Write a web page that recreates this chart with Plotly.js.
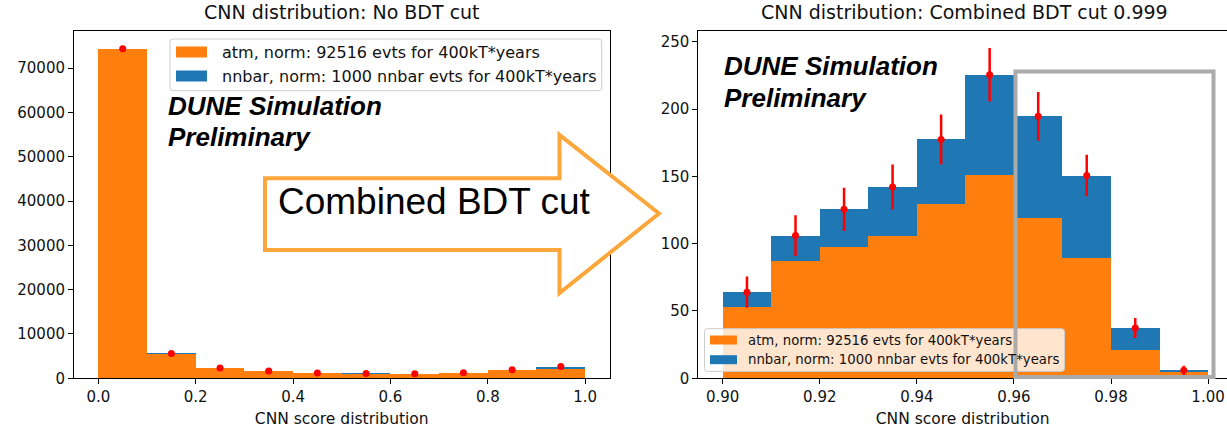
<!DOCTYPE html>
<html>
<head>
<meta charset="utf-8">
<script src="https://cdn.plot.ly/plotly-3.0.1.min.js"></script>
<style>html,body{margin:0;padding:0;background:#fff}#chart{width:1227px;height:429px}</style>
</head>
<body>
<div id="chart"></div>
<script>
// ---------- data ----------
const leftBinCenters = [0.05, 0.15, 0.25, 0.35, 0.45, 0.55, 0.65, 0.75, 0.85, 0.95];
const leftAtm   = [74350, 5585, 2330, 1625, 1150, 1060, 1000, 1210, 1800, 2060];
const leftNnbar = [10, 15, 20, 25, 30, 40, 50, 70, 150, 590];
const leftData  = [74360, 5600, 2350, 1650, 1180, 1100, 1050, 1280, 1950, 2650];

const rightBinCenters = [0.905, 0.915, 0.925, 0.935, 0.945, 0.955, 0.965, 0.975, 0.985, 0.995];
const rightAtm   = [52.8, 87.0, 97.6, 105.5, 129.8, 150.9, 118.8, 89.6, 21.3, 4.8];
const rightNnbar = [11.2, 19.0, 27.9, 36.6, 47.6, 74.6, 75.8, 61.0, 16.1, 1.1];
const rightData  = [64.0, 106.0, 125.5, 142.1, 177.4, 225.5, 194.6, 150.6, 37.4, 5.9];
const rightErr   = [11.6, 15.2, 16.0, 16.8, 18.6, 19.9, 18.1, 15.4, 7.4, 3.5];

const leftTickVals  = [0.0, 0.2, 0.4, 0.6, 0.8, 1.0];
const rightTickVals = [0.90, 0.92, 0.94, 0.96, 0.98, 1.00];
const leftYTicks  = [0, 10000, 20000, 30000, 40000, 50000, 60000, 70000];
const rightYTicks = [0, 50, 100, 150, 200, 250];

const atmLabel   = 'atm, norm: 92516 evts for 400kT*years';
const nnbarLabel = 'nnbar, norm: 1000 nnbar evts for 400kT*years';

// ---------- styling ----------
const ORANGE = '#ff7f0e', BLUE = '#1f77b4';
const W = 1227, H = 429;
const px = x => x / W, py = y => 1 - y / H;
const FONT = 'DejaVu Sans, sans-serif';

const traces = [
  {type:'bar', x:leftBinCenters, y:leftAtm, width:0.1, marker:{color:ORANGE, line:{width:0}},
   xaxis:'x', yaxis:'y', name:atmLabel, showlegend:false, hoverinfo:'y'},
  {type:'bar', x:leftBinCenters, y:leftNnbar, width:0.1, marker:{color:BLUE, line:{width:0}},
   xaxis:'x', yaxis:'y', name:nnbarLabel, showlegend:false, hoverinfo:'y'},
  {type:'scatter', mode:'markers', x:leftBinCenters, y:leftData, marker:{color:'#ff0000', size:7},
   xaxis:'x', yaxis:'y', showlegend:false},
  {type:'bar', x:rightBinCenters, y:rightAtm, width:0.01, marker:{color:ORANGE, line:{width:0}},
   xaxis:'x2', yaxis:'y2', name:atmLabel, showlegend:false},
  {type:'bar', x:rightBinCenters, y:rightNnbar, width:0.01, marker:{color:BLUE, line:{width:0}},
   xaxis:'x2', yaxis:'y2', name:nnbarLabel, showlegend:false},
  {type:'scatter', mode:'markers', x:rightBinCenters, y:rightData,
   error_y:{type:'data', array:rightErr, visible:true, color:'#ff0000', thickness:2.5, width:0},
   marker:{color:'#ff0000', size:7}, xaxis:'x2', yaxis:'y2', showlegend:false}
];

const axisCommon = {
  showgrid:false, zeroline:false, showline:true, linecolor:'#000', linewidth:1,
  ticks:'outside', ticklen:5, tickwidth:1, tickcolor:'#000',
  tickfont:{family:FONT, size:15, color:'#111'}, automargin:false, fixedrange:true
};
const yDomain = [1 - 378.3/H, 1 - 30.7/H];

const layout = {
  width:W, height:H, margin:{l:0, r:0, t:0, b:0},
  paper_bgcolor:'#fff', plot_bgcolor:'#fff', barmode:'stack', showlegend:false,
  font:{family:FONT, color:'#111'},
  xaxis:Object.assign({}, axisCommon, {domain:[px(74), px(609.5)], range:[-0.05, 1.05], mirror:true,
    tickvals:leftTickVals, tickformat:'.1f', anchor:'y',
    title:{text:'CNN score distribution', font:{family:FONT, size:15.5, color:'#111'}, standoff:7}}),
  yaxis:Object.assign({}, axisCommon, {domain:yDomain, range:[0, 78450], mirror:true,
    tickvals:leftYTicks, tickformat:'d', anchor:'x'}),
  xaxis2:Object.assign({}, axisCommon, {domain:[px(698.3), 1], range:[0.89497, 1.0039], mirror:true,
    tickvals:rightTickVals, tickformat:'.2f', anchor:'y2',
    title:{text:'CNN score distribution', font:{family:FONT, size:15.5, color:'#111'}, standoff:7}}),
  yaxis2:Object.assign({}, axisCommon, {domain:yDomain, range:[0, 258.2], mirror:false,
    tickvals:rightYTicks, tickformat:'d', anchor:'x2'}),
  shapes:[], annotations:[]
};

// titles
layout.annotations.push(
  {text:'CNN distribution: No BDT cut', xref:'paper', yref:'paper', x:px(342), y:py(12.5),
   xanchor:'center', yanchor:'middle', showarrow:false, font:{family:FONT, size:19, color:'#111'}},
  {text:'CNN distribution: Combined BDT cut 0.999', xref:'paper', yref:'paper', x:px(964), y:py(12.5),
   xanchor:'center', yanchor:'middle', showarrow:false, font:{family:FONT, size:19, color:'#111'}}
);

// rounded legend boxes
function roundRect(x0, y0, x1, y1, r) {
  return `M${px(x0+r)},${py(y0)} L${px(x1-r)},${py(y0)} Q${px(x1)},${py(y0)} ${px(x1)},${py(y0+r)} ` +
         `L${px(x1)},${py(y1-r)} Q${px(x1)},${py(y1)} ${px(x1-r)},${py(y1)} L${px(x0+r)},${py(y1)} ` +
         `Q${px(x0)},${py(y1)} ${px(x0)},${py(y1-r)} L${px(x0)},${py(y0+r)} Q${px(x0)},${py(y0)} ${px(x0+r)},${py(y0)} Z`;
}
function addLegend(box, rows, patchX, patchW, patchH, textX, fontSize) {
  layout.shapes.push({type:'path', xref:'paper', yref:'paper', path:roundRect(box[0], box[1], box[2], box[3], 3),
    fillcolor:'rgba(255,255,255,0.8)', line:{color:'#cccccc', width:1}, layer:'above'});
  rows.forEach(r => {
    layout.shapes.push({type:'rect', xref:'paper', yref:'paper', x0:px(patchX), x1:px(patchX+patchW),
      y0:py(r.y - patchH/2), y1:py(r.y + patchH/2), fillcolor:r.color, line:{width:0}, layer:'above'});
    layout.annotations.push({text:r.label, xref:'paper', yref:'paper', x:px(textX), y:py(r.y),
      xanchor:'left', yanchor:'middle', showarrow:false, font:{family:FONT, size:fontSize, color:'#111'}});
  });
}
addLegend([170, 39, 601.7, 90.7], [{y:52, color:ORANGE, label:atmLabel}, {y:76, color:BLUE, label:nnbarLabel}],
  176, 31, 11, 220, 16);
addLegend([704.5, 328.7, 1064.5, 371.4], [{y:340, color:ORANGE, label:atmLabel}, {y:359.7, color:BLUE, label:nnbarLabel}],
  710, 27, 9, 746, 13.3);

// gray selection box on right panel
layout.shapes.push({type:'rect', xref:'paper', yref:'paper', x0:px(1015.5), x1:px(1213.5), y0:py(377), y1:py(71.5),
  fillcolor:'rgba(0,0,0,0)', line:{color:'#aaaaaa', width:4}, layer:'above'});

// DUNE labels
const duneFont = {family:'Liberation Sans, Arial, sans-serif', size:26, color:'#000'};
[[166, 106.5, 'DUNE Simulation'], [166, 137, 'Preliminary'], [721.5, 65.5, 'DUNE Simulation'], [721.5, 98, 'Preliminary']]
  .forEach(([x, y, t]) => layout.annotations.push({text:'<b><i>' + t + '</i></b>', xref:'paper', yref:'paper',
    x:px(x), y:py(y), xanchor:'left', yanchor:'middle', showarrow:false, font:duneFont}));

// big arrow
const arrowPts = [[265,178.3],[559.5,178.3],[559.5,135],[659,213.5],[559.5,293],[559.5,250],[265,250]];
layout.shapes.push({type:'path', xref:'paper', yref:'paper',
  path:'M' + arrowPts.map(p => px(p[0]) + ',' + py(p[1])).join(' L') + ' Z',
  fillcolor:'#ffffff', line:{color:'#fba73c', width:4}, layer:'above'});
layout.annotations.push({text:'Combined BDT cut', xref:'paper', yref:'paper', x:px(434), y:py(201),
  xanchor:'center', yanchor:'middle', showarrow:false,
  font:{family:'Liberation Sans, Arial, sans-serif', size:37, color:'#000'}});

Plotly.newPlot('chart', traces, layout, {displayModeBar:false, staticPlot:true});
</script>
</body>
</html>
